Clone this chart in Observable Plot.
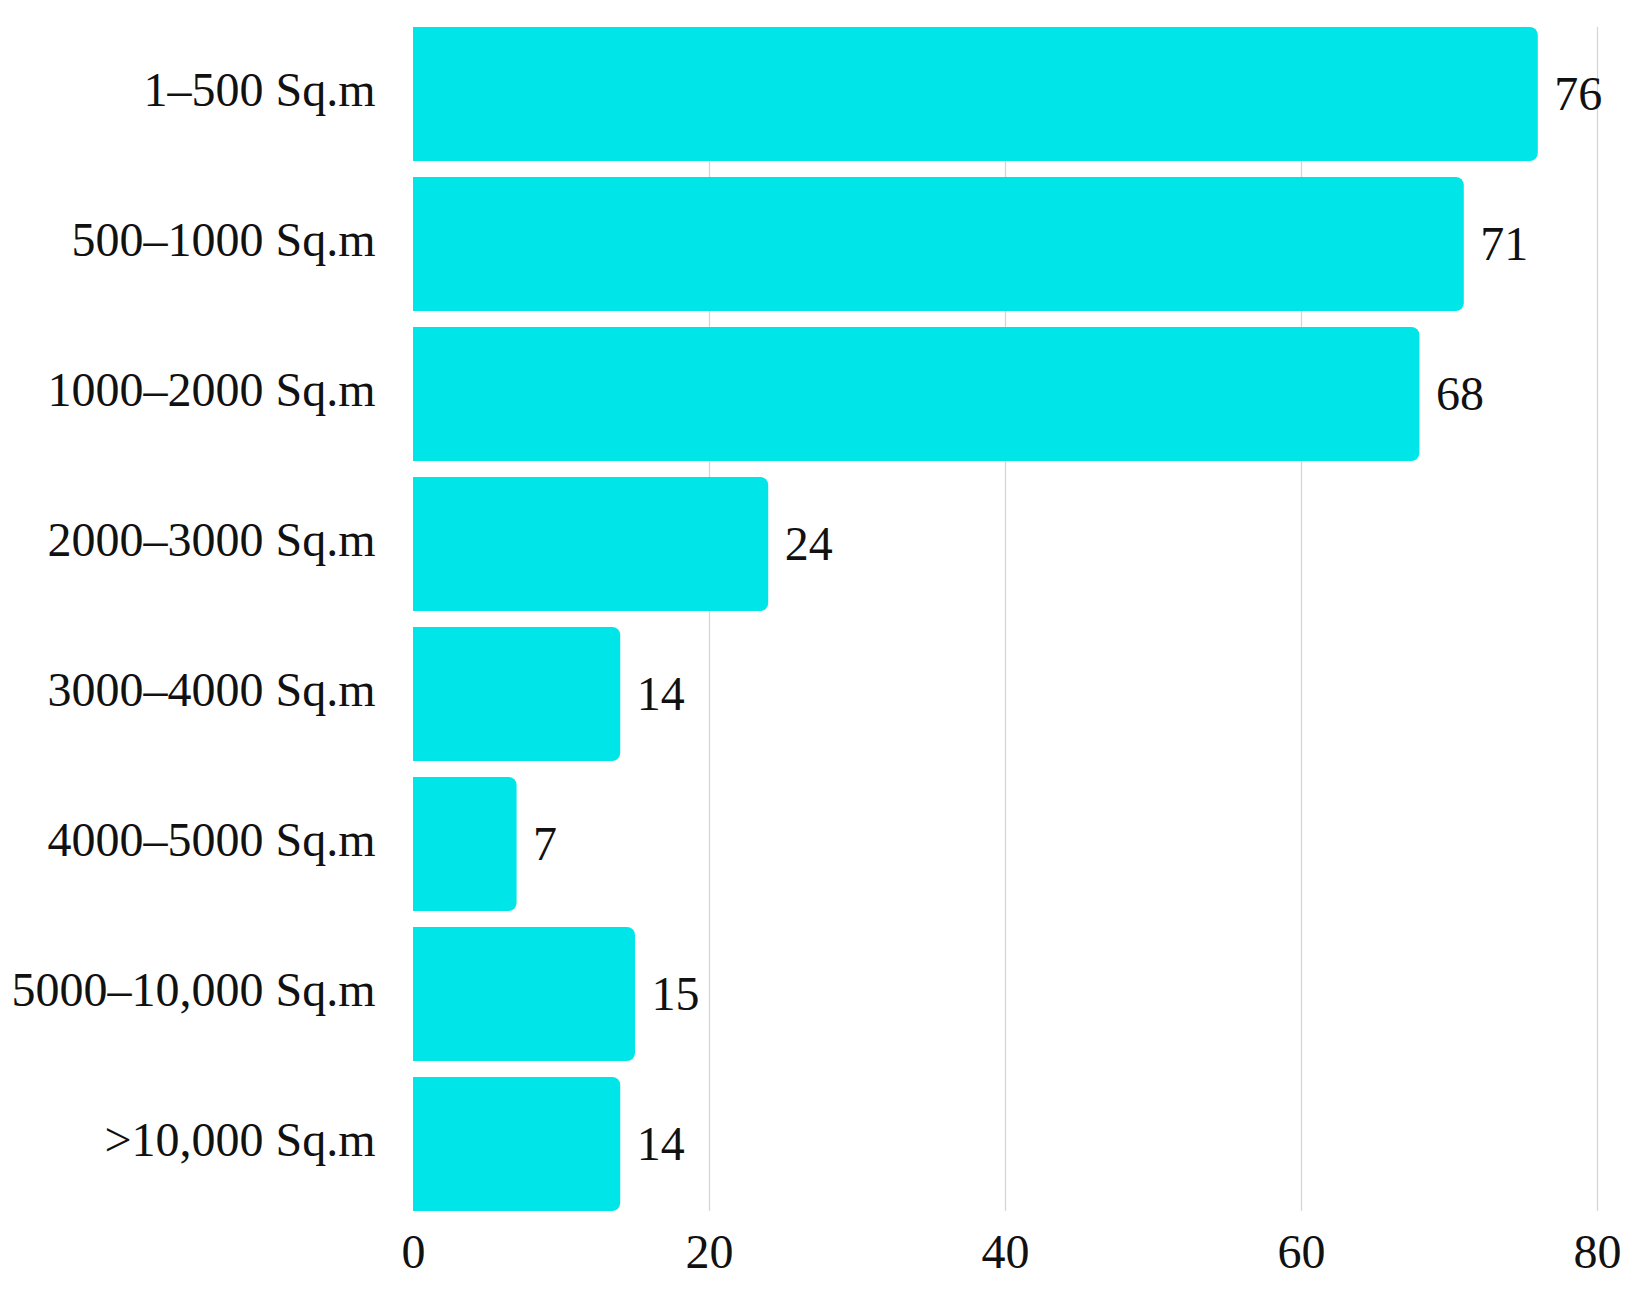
<!DOCTYPE html>
<html>
<head>
<meta charset="utf-8">
<script src="https://cdn.jsdelivr.net/npm/d3@7"></script>
<script src="https://cdn.jsdelivr.net/npm/@observablehq/plot@0.6"></script>
<style>
  html, body { margin: 0; padding: 0; background: #fff; }
  #chart svg { display: block; }
</style>
</head>
<body>
<div id="chart"></div>
<script>
const categories = [
  "1–500 Sq.m",
  "500–1000 Sq.m",
  "1000–2000 Sq.m",
  "2000–3000 Sq.m",
  "3000–4000 Sq.m",
  "4000–5000 Sq.m",
  "5000–10,000 Sq.m",
  ">10,000 Sq.m"
];
const values = [76, 71, 68, 24, 14, 7, 15, 14];
const xTicks = [0, 20, 40, 60, 80];

const data = categories.map((c, i) => ({category: c, value: values[i]}));
const barColor = "#00e6e8";
const fontFamily = "'Palatino Linotype', Palatino, 'Book Antiqua', 'Liberation Serif', serif";

const chart = Plot.plot({
  width: 1645,
  height: 1293,
  marginLeft: 413,
  marginRight: 48,
  marginTop: 27,
  marginBottom: 82,
  style: {fontFamily, fontSize: "48px", color: "#111", background: "#fff"},
  x: {domain: [0, 80], ticks: xTicks, label: null},
  y: {domain: categories, label: null, paddingInner: 0.107, paddingOuter: 0},
  marks: [
    Plot.gridX(xTicks.filter(t => t > 0), {stroke: "#d4d4d4", strokeOpacity: 1, strokeWidth: 1.2}),
    Plot.barX(data, {x: "value", y: "category", fill: barColor, rx: 8}),
    Plot.rectX(data, {x1: 0, x2: d => d.value / 2, y: "category", fill: barColor}),
    Plot.text(data, {x: "value", y: "category", text: d => String(d.value), textAnchor: "start", dx: 16, dy: 0, fontSize: 48, fill: "#111"}),
    Plot.axisX({ticks: xTicks, tickSize: 0, tickPadding: 22, fontSize: 48, label: null}),
    Plot.axisY({tickSize: 0, tickPadding: 38, fontSize: 48, dy: -4, label: null})
  ]
});
document.getElementById("chart").appendChild(chart);
</script>
</body>
</html>
